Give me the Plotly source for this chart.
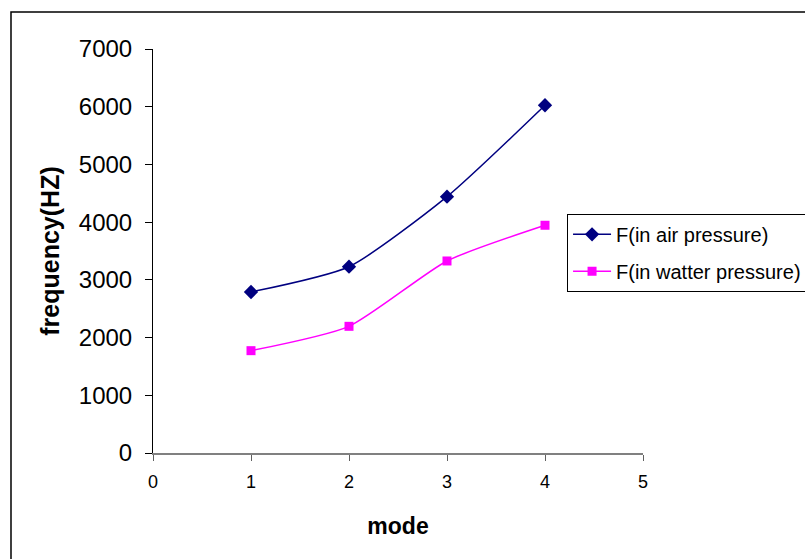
import plotly.graph_objects as go

modes = [1, 2, 3, 4]
air = [2790, 3228, 4441, 6025]
water = [1773, 2195, 3327, 3946]
names = ["F(in air pressure)", "F(in watter pressure)"]

fig = go.Figure()
fig.add_trace(go.Scatter(x=modes, y=air, name=names[0], mode="lines+markers", legendgroup="a",
                         line=dict(color="#000080", width=1.5, shape="spline", smoothing=0.6),
                         marker=dict(symbol="diamond", size=11, color="#000080")))
fig.add_trace(go.Scatter(x=modes, y=water, name=names[1], mode="lines+markers", legendgroup="b",
                         line=dict(color="#FF00FF", width=1.5, shape="spline", smoothing=0.6),
                         marker=dict(symbol="square", size=9, color="#FF00FF")))

fig.update_layout(
    width=805, height=559,
    margin=dict(l=153, r=162, t=49, b=106, autoexpand=False),
    paper_bgcolor="white", plot_bgcolor="white",
    font=dict(family="Liberation Sans, Arial, sans-serif", color="black"),
    showlegend=True,
    legend=dict(x=0.845, y=0.592, xanchor="left", yanchor="top",
                bordercolor="black", borderwidth=1, bgcolor="white",
                font=dict(size=20), traceorder="grouped", tracegroupgap=8,
                itemwidth=38),
    xaxis=dict(range=[0, 5], tickvals=[0, 1, 2, 3, 4, 5], showgrid=False, zeroline=False,
               showline=True, linecolor="#808080", linewidth=2, ticks="outside",
               ticklen=6, tickcolor="#606060", tickfont=dict(size=18), ticklabelstandoff=5,
               title=dict(text="<b>mode</b>", font=dict(size=23), standoff=27)),
    yaxis=dict(range=[0, 7000], tickvals=[0, 1000, 2000, 3000, 4000, 5000, 6000, 7000],
               showgrid=False, zeroline=False, showline=True, linecolor="black", linewidth=1,
               ticks="outside", ticklen=7, tickcolor="black", tickfont=dict(size=24),
               ticklabelstandoff=8,
               title=dict(text="<b>frequency(HZ)</b>", font=dict(size=25), standoff=12)),
)

fig.add_shape(type="rect", xref="paper", yref="paper", x0=-0.2898, y0=-1, x1=2, y1=1.0916,
              line=dict(color="black", width=1.5), fillcolor="rgba(0,0,0,0)", layer="below")

fig.write_html("out.html")
